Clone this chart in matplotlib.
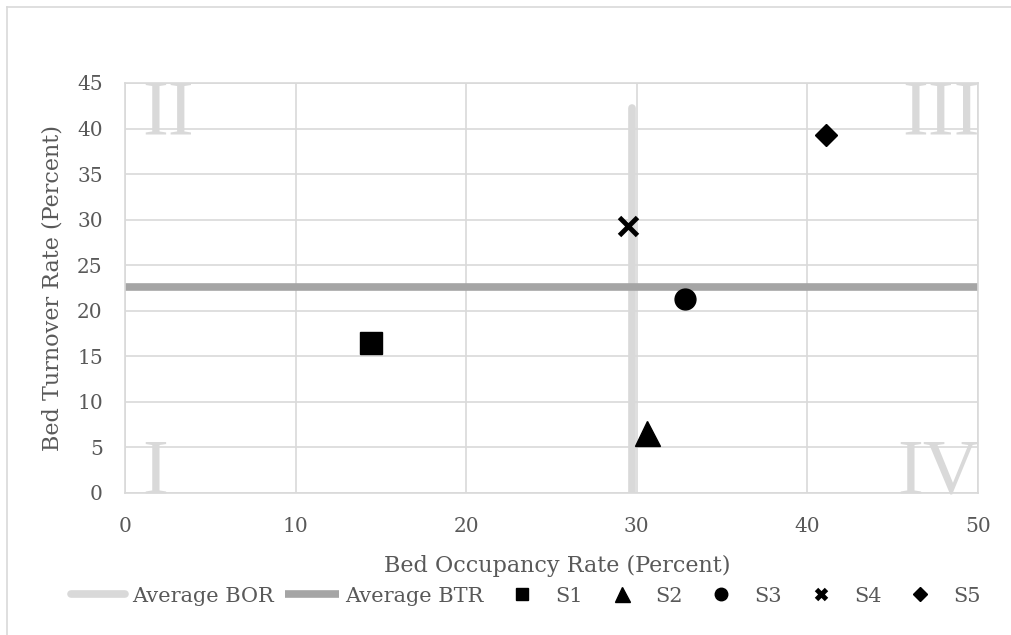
import matplotlib
matplotlib.use('Agg')
import matplotlib.pyplot as plt
from matplotlib.lines import Line2D

# average lines
bor_x = [29.7, 29.7]
bor_y = [0, 42.3]
btr_x = [0, 50]
btr_y = [22.65, 22.65]

# hospitals S1..S5 (BOR, BTR)
names = ['S1', 'S2', 'S3', 'S4', 'S5']
bor = [14.4, 30.6, 32.8, 29.5, 41.1]
btr = [16.5, 6.6, 21.3, 29.35, 39.3]
markers = ['s', '^', 'o', 'x', 'D']
msizes = [15.5, 18, 15, 13, 11.5]

plt.rcParams['font.family'] = ['DejaVu Serif']
txt = '#595959'
grid = '#d9d9d9'

fig = plt.figure(figsize=(10.11, 6.35), dpi=100)
ax = fig.add_axes([125/1011, 1-493/635, 853/1011, 410/635])

# chart border (top / left)
fig.add_artist(Line2D([7/1011, 1], [1-7/635, 1-7/635], color=grid, lw=1.2))
fig.add_artist(Line2D([7/1011, 7/1011], [0, 1-7/635], color=grid, lw=1.2))

ax.set_xlim(0, 50)
ax.set_ylim(0, 45)
ax.set_xticks(range(0, 51, 10))
ax.set_yticks(range(0, 46, 5))
ax.grid(True, color=grid, lw=1.2)
ax.set_axisbelow(True)
for s in ax.spines.values():
    s.set_color(grid)
    s.set_linewidth(1.2)
ax.tick_params(length=0, labelsize=14.5, labelcolor=txt)
ax.tick_params(axis='y', pad=16)
ax.tick_params(axis='x', pad=17)

# quadrant labels
qkw = dict(color=grid, fontsize=56, zorder=1, family='Liberation Serif')
ax.text(1.0, 39.5, 'II', ha='left', va='baseline', **qkw)
ax.text(50.1, 39.5, 'III', ha='right', va='baseline', **qkw)
ax.text(1.0, 0.1, 'I', ha='left', va='baseline', **qkw)
ax.text(50.1, 0.1, 'IV', ha='right', va='baseline', **qkw)

ax.plot(bor_x, bor_y, color='#d9d9d9', lw=5.5, solid_capstyle='round', label='Average BOR', zorder=2)
ax.plot(btr_x, btr_y, color='#a5a5a5', lw=5.5, solid_capstyle='butt', label='Average BTR', zorder=2)

for n, x, y, m, ms in zip(names, bor, btr, markers, msizes):
    if m == 'x':
        ax.plot(x, y, m, color='black', ms=ms, mew=3.5, label=n, zorder=3)
    else:
        ax.plot(x, y, m, color='black', ms=ms, label=n, zorder=3)

ax.set_xlabel('Bed Occupancy Rate (Percent)', fontsize=16, color=txt)
ax.xaxis.set_label_coords(0.507, -0.152)
ax.set_ylabel('Bed Turnover Rate (Percent)', fontsize=16, color=txt, labelpad=10)

h, l = ax.get_legend_handles_labels()
leg = fig.legend(h, l, loc='center', bbox_to_anchor=(526/1011, 1-596/635), ncol=7,
                 frameon=False, fontsize=15, handlelength=2.6, handletextpad=0.3,
                 columnspacing=0.55, markerscale=0.6)
for t in leg.get_texts():
    t.set_color(txt)

fig.savefig('out.png', dpi=100, facecolor='white')
